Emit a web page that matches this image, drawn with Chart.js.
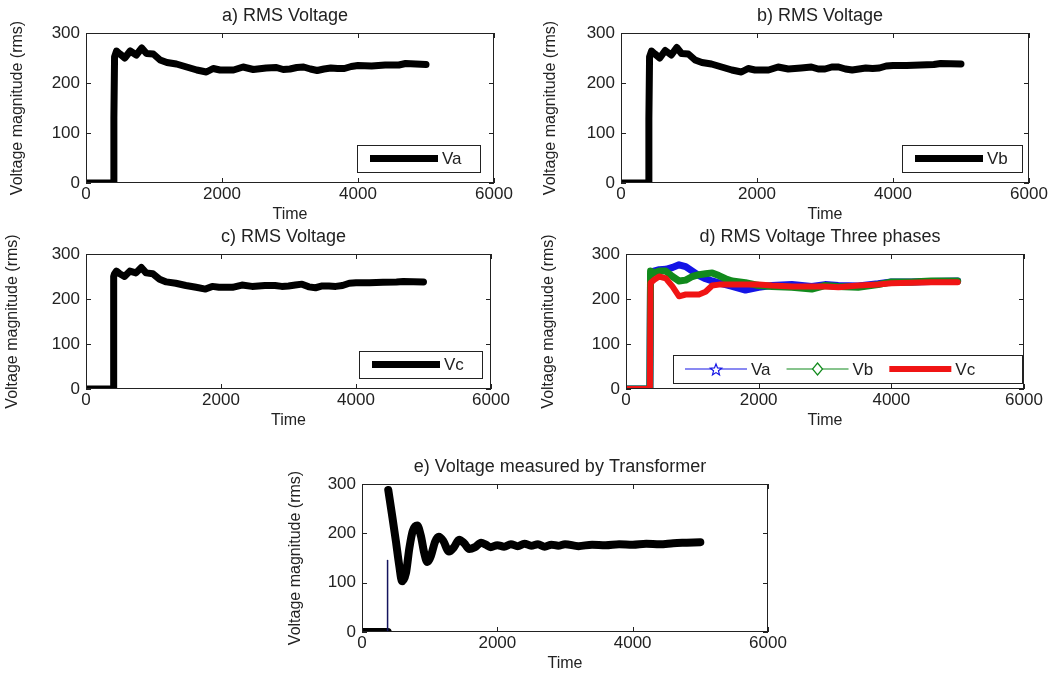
<!DOCTYPE html>
<html>
<head>
<meta charset="utf-8">
<script src="https://cdn.jsdelivr.net/npm/chart.js@4.4.1/dist/chart.umd.min.js"></script>
<style>
  html, body { margin: 0; padding: 0; background: #fff; overflow: hidden; }
  body { width: 1058px; height: 675px; position: relative; }
  .plot { position: absolute; }
</style>
</head>
<body>
<div class="plot" id="wrapA"><canvas id="chartA"></canvas></div>
<div class="plot" id="wrapB"><canvas id="chartB"></canvas></div>
<div class="plot" id="wrapC"><canvas id="chartC"></canvas></div>
<div class="plot" id="wrapD"><canvas id="chartD"></canvas></div>
<div class="plot" id="wrapE"><canvas id="chartE"></canvas></div>
<script>
// single phase RMS (plots a, b, c)
const timeSingle = [0, 380, 400, 410, 420, 450, 500, 570, 650, 740, 820, 890, 990, 1090, 1190, 1330, 1480, 1630, 1770, 1870, 1970, 2170, 2310, 2460, 2650, 2800, 2900, 3000, 3100, 3200, 3300, 3400, 3500, 3600, 3700, 3800, 3900, 4000, 4200, 4400, 4600, 4700, 5000];
const voltA = [0, 0, 0, 130, 252, 264, 258, 250, 264, 256, 270, 259, 258, 246, 241, 238, 232, 226, 222, 229, 226, 226, 232, 227, 230, 231, 227, 228, 231, 232, 228, 225, 228, 230, 229, 229, 233, 235, 234, 236, 236, 239, 237];
const voltB = [0, 0, 0, 128, 252, 264, 258, 250, 265, 256, 271, 259, 258, 246, 241, 238, 232, 226, 222, 229, 226, 226, 232, 228, 230, 232, 228, 228, 232, 232, 228, 226, 228, 230, 229, 230, 234, 235, 235, 236, 237, 239, 238];
const voltC = [0, 0, 0, 250, 255, 262, 256, 250, 262, 258, 270, 258, 256, 244, 238, 235, 230, 226, 222, 228, 226, 226, 231, 228, 230, 230, 228, 229, 231, 233, 227, 225, 229, 229, 228, 230, 235, 236, 236, 237, 238, 239, 238];

// three phases (plot d)
const timeThree = [0, 360, 370, 420, 500, 600, 700, 800, 900, 1000, 1100, 1200, 1300, 1400, 1500, 1600, 1800, 2000, 2200, 2500, 2800, 3000, 3200, 3500, 3800, 4000, 4300, 4600, 5000];
const phaseA = [0, 0, 255, 262, 265, 266, 270, 276, 272, 262, 252, 245, 240, 236, 232, 228, 220, 226, 230, 232, 228, 232, 230, 229, 234, 238, 238, 239, 240];
const phaseB = [0, 0, 262, 258, 262, 262, 250, 240, 242, 250, 254, 256, 258, 252, 245, 240, 236, 230, 228, 226, 222, 230, 228, 226, 232, 238, 238, 240, 240];
const phaseC = [0, 0, 236, 242, 250, 246, 228, 206, 210, 210, 210, 216, 230, 232, 232, 232, 232, 232, 230, 228, 228, 228, 226, 230, 232, 235, 236, 237, 237];

// transformer (plot e)
const timeTrans = [0, 380, 384, 388, 450, 500, 550, 592, 650, 700, 750, 816, 870, 920, 965, 1020, 1080, 1135, 1200, 1285, 1360, 1435, 1510, 1585, 1670, 1760, 1830, 1900, 2000, 2100, 2200, 2300, 2400, 2500, 2600, 2700, 2800, 2900, 3000, 3200, 3400, 3600, 3800, 4000, 4200, 4400, 4600, 4800, 5000];
const voltTrans = [0, 0, null, 288, 232, 185, 135, 103, 120, 170, 205, 216, 195, 160, 142, 155, 183, 193, 185, 163, 172, 187, 180, 168, 172, 181, 177, 172, 176, 173, 178, 174, 179, 175, 178, 173, 177, 175, 178, 174, 177, 176, 178, 177, 179, 178, 180, 181, 182];
const spikeTime = [378, 378];
const spikeVolt = [0, 145];

const timeTicks = [0, 2000, 4000, 6000];
const voltTicks = [0, 100, 200, 300];

const FONT = '"Liberation Sans", Arial, Helvetica, sans-serif';
const INK = '#222';

function toPoints(xs, ys) {
    return xs.map((x, i) => ({ x: x, y: ys[i] }));
}

// MATLAB style box with inward ticks on all sides
const matlabBox = {
    id: 'matlabBox',
    afterDatasetsDraw(chart) {
        const { ctx, chartArea: { left, right, top, bottom }, scales: { x, y } } = chart;
        ctx.save();
        ctx.strokeStyle = INK;
        ctx.lineWidth = 1;
        ctx.strokeRect(Math.round(left) + 0.5, Math.round(top) + 0.5, Math.round(right - left) - 1, Math.round(bottom - top) - 1);
        ctx.beginPath();
        timeTicks.forEach(t => {
            const px = Math.round(x.getPixelForValue(t)) + 0.5;
            ctx.moveTo(px, bottom); ctx.lineTo(px, bottom - 5);
            ctx.moveTo(px, top); ctx.lineTo(px, top + 5);
        });
        voltTicks.forEach(v => {
            const py = Math.round(y.getPixelForValue(v)) + 0.5;
            ctx.moveTo(left, py); ctx.lineTo(left + 5, py);
            ctx.moveTo(right, py); ctx.lineTo(right - 5, py);
        });
        ctx.stroke();
        ctx.restore();
    }
};

function drawMarker(ctx, kind, cx, cy, color) {
    ctx.save();
    ctx.strokeStyle = color;
    ctx.lineWidth = 1.2;
    ctx.beginPath();
    if (kind === 'star') {
        for (let i = 0; i < 10; i++) {
            const r = i % 2 === 0 ? 6 : 2.6;
            const a = -Math.PI / 2 + i * Math.PI / 5;
            const px = cx + r * Math.cos(a), py = cy + r * Math.sin(a) + 1;
            if (i === 0) ctx.moveTo(px, py); else ctx.lineTo(px, py);
        }
        ctx.closePath();
    } else if (kind === 'diamond') {
        ctx.moveTo(cx, cy - 6); ctx.lineTo(cx + 5, cy); ctx.lineTo(cx, cy + 6); ctx.lineTo(cx - 5, cy);
        ctx.closePath();
    }
    ctx.fillStyle = '#fff';
    ctx.fill();
    ctx.stroke();
    ctx.restore();
}

// legend box inside the axes, bottom right
const boxLegend = {
    id: 'boxLegend',
    afterDraw(chart, args, opts) {
        if (!opts || !opts.show) return;
        const { ctx, chartArea } = chart;
        const x0 = chartArea.right - opts.right - opts.width;
        const y0 = chartArea.bottom - opts.bottom - opts.height;
        ctx.save();
        ctx.fillStyle = '#fff';
        ctx.fillRect(x0, y0, opts.width, opts.height);
        ctx.strokeStyle = INK;
        ctx.lineWidth = 1;
        ctx.strokeRect(Math.round(x0) + 0.5, Math.round(y0) + 0.5, opts.width, opts.height);
        ctx.font = '17px ' + FONT;
        ctx.textBaseline = 'middle';
        const cy = y0 + opts.height / 2;
        let cx = x0 + opts.pad;
        chart.data.datasets.forEach(ds => {
            if (!ds.label) return;
            ctx.strokeStyle = ds.borderColor;
            ctx.lineWidth = ds.legendLineWidth || ds.borderWidth;
            ctx.lineCap = 'butt';
            ctx.beginPath();
            ctx.moveTo(cx, cy);
            ctx.lineTo(cx + opts.sample, cy);
            ctx.stroke();
            if (ds.legendMarker) drawMarker(ctx, ds.legendMarker, cx + opts.sample / 2, cy, ds.borderColor);
            cx += opts.sample + 4;
            ctx.fillStyle = INK;
            ctx.fillText(ds.label, cx, cy + 1);
            cx += ctx.measureText(ds.label).width + opts.gap;
        });
        ctx.restore();
    }
};

function makeChart(id, wrapId, cfg) {
    const wrap = document.getElementById(wrapId);
    wrap.style.left = (cfg.box[0] - 90) + 'px';
    wrap.style.top = (cfg.box[1] - 33) + 'px';
    wrap.style.width = (cfg.box[2] + 90 + 80) + 'px';
    wrap.style.height = (cfg.box[3] + 33 + 45) + 'px';
    const tickFont = { family: FONT, size: 17 };
    return new Chart(document.getElementById(id), {
        type: 'line',
        data: { datasets: cfg.datasets },
        options: {
            responsive: true,
            maintainAspectRatio: false,
            animation: false,
            events: [],
            layout: { padding: 0 },
            elements: {
                point: { radius: 0 },
                line: { tension: cfg.tension || 0, borderJoinStyle: 'round', borderCapStyle: 'round' }
            },
            plugins: {
                legend: { display: false },
                tooltip: { enabled: false },
                title: {
                    display: true,
                    text: cfg.title,
                    color: INK,
                    font: { family: FONT, size: 18, weight: 'normal', lineHeight: 1.2 },
                    padding: { top: 5.4, bottom: 6 }
                },
                boxLegend: cfg.legend || { show: false }
            },
            scales: {
                x: {
                    type: 'linear',
                    min: 0,
                    max: 6000,
                    afterBuildTicks(s) { s.ticks = timeTicks.map(v => ({ value: v })); },
                    ticks: { color: INK, padding: 1, maxRotation: 0, font: tickFont, callback: v => String(v) },
                    grid: { display: false, drawTicks: false },
                    border: { display: false },
                    title: {
                        display: true, text: 'Time', color: INK,
                        font: { family: FONT, size: 16, lineHeight: 1.2 },
                        padding: { top: 0, bottom: 4 }
                    },
                    afterFit(s) { s.height = 45; }
                },
                y: {
                    type: 'linear',
                    min: 0,
                    max: 300,
                    afterBuildTicks(s) { s.ticks = voltTicks.map(v => ({ value: v })); },
                    ticks: { color: INK, padding: 6, font: tickFont, callback: v => String(v) },
                    grid: { display: false, drawTicks: false },
                    border: { display: false },
                    title: {
                        display: true, text: 'Voltage magnitude (rms)', color: INK,
                        font: { family: FONT, size: 16, lineHeight: 1.2 },
                        padding: { top: cfg.yPad, bottom: 0 }
                    },
                    afterFit(s) { s.width = 90; }
                },
                // empty right gutter so the title sits over the axes
                gutter: {
                    type: 'linear',
                    position: 'right',
                    min: 0,
                    max: 300,
                    ticks: { display: false },
                    grid: { display: false, drawTicks: false },
                    border: { display: false },
                    afterFit(s) { s.width = 80; }
                }
            }
        },
        plugins: [matlabBox, boxLegend]
    });
}

function blackLine(label, xs, ys, width) {
    return { label: label, data: toPoints(xs, ys), borderColor: '#000', backgroundColor: '#000', borderWidth: width, fill: false };
}

makeChart('chartA', 'wrapA', {
    box: [86, 33, 408, 150], title: 'a) RMS Voltage', yPad: 12,
    datasets: [blackLine('Va', timeSingle, voltA, 7)],
    legend: { show: true, right: 14, bottom: 11, width: 123, height: 27, pad: 13, sample: 68, gap: 10 }
});

makeChart('chartB', 'wrapB', {
    box: [621, 33, 408, 150], title: 'b) RMS Voltage', yPad: 10,
    datasets: [blackLine('Vb', timeSingle, voltB, 7)],
    legend: { show: true, right: 7, bottom: 11, width: 120, height: 27, pad: 13, sample: 68, gap: 10 }
});

makeChart('chartC', 'wrapC', {
    box: [86, 254, 405, 135], title: 'c) RMS Voltage', yPad: 7,
    datasets: [blackLine('Vc', timeSingle, voltC, 7)],
    legend: { show: true, right: 9, bottom: 11, width: 123, height: 27, pad: 13, sample: 68, gap: 10 }
});

makeChart('chartD', 'wrapD', {
    box: [626, 254, 398, 135], title: 'd) RMS Voltage Three phases', yPad: 3,
    datasets: [
        { label: 'Va', data: toPoints(timeThree, phaseA), borderColor: '#1414e6', borderWidth: 7, legendLineWidth: 1.2, legendMarker: 'star', order: 3, fill: false },
        { label: 'Vb', data: toPoints(timeThree, phaseB), borderColor: '#118a1c', borderWidth: 7, legendLineWidth: 1.2, legendMarker: 'diamond', order: 2, fill: false },
        { label: 'Vc', data: toPoints(timeThree, phaseC), borderColor: '#f01414', borderWidth: 6, legendLineWidth: 6, order: 1, fill: false }
    ],
    legend: { show: true, right: 2, bottom: 6, width: 349, height: 28, pad: 12, sample: 62, gap: 16 }
});

makeChart('chartE', 'wrapE', {
    box: [362, 484, 406, 148], title: 'e) Voltage measured by Transformer', yPad: 14, tension: 0.35,
    datasets: [
        { data: toPoints(spikeTime, spikeVolt), borderColor: '#14145e', borderWidth: 1.5, tension: 0, fill: false },
        { data: toPoints(timeTrans, voltTrans), borderColor: '#000', borderWidth: 8, cubicInterpolationMode: 'monotone', spanGaps: false, fill: false }
    ]
});
</script>
</body>
</html>
